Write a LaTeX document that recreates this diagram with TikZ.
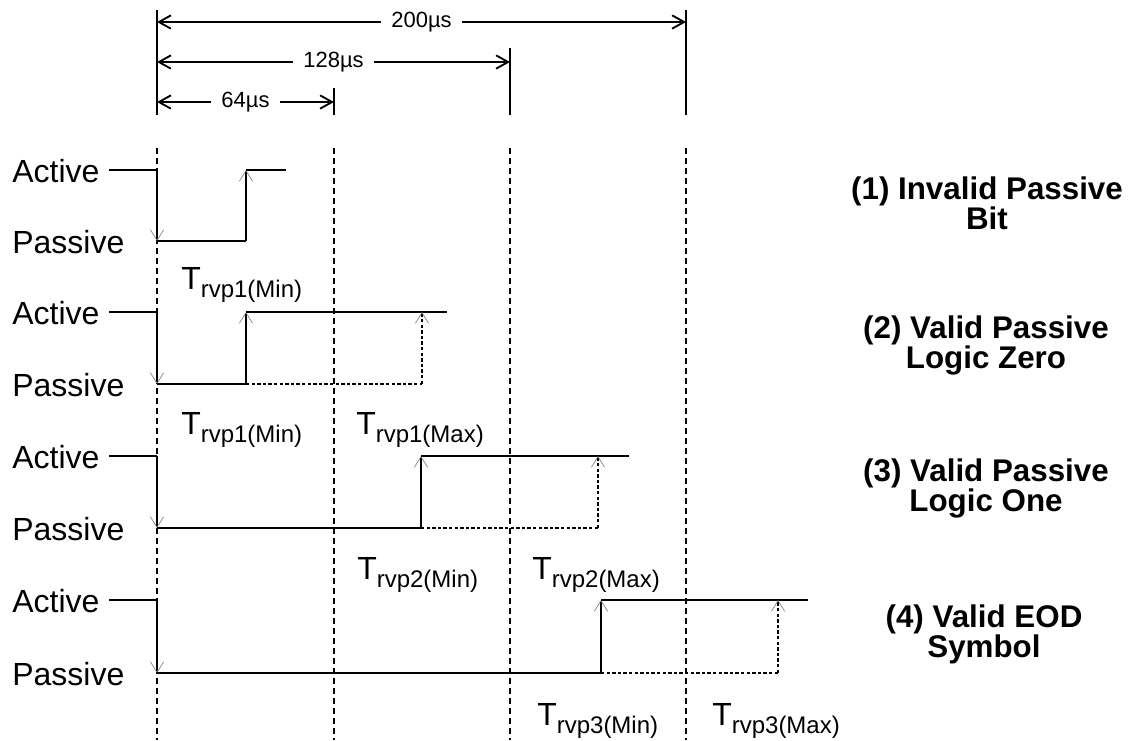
\documentclass[tikz,border=0pt]{standalone}
\usepackage{fontspec}
\setmainfont{Liberation Sans}
\usetikzlibrary{arrows.meta}
\newcommand{\Tlab}[1]{T\raisebox{-6pt}{\fontsize{18}{20}\selectfont #1}}
\begin{document}
\begin{tikzpicture}[x=0.75pt,y=-0.75pt,
  sig/.style={line width=1pt},
  dotsig/.style={line width=2.2pt, dash pattern=on 2.6pt off 1.6pt},
  gridline/.style={line width=1pt, dash pattern=on 4.5pt off 3pt},
  ticksolid/.style={line width=1.4pt},
  dimline/.style={line width=1.4pt, {Straight Barb[length=9pt,width=10pt]}-{Straight Barb[length=9pt,width=10pt]}},
  tipg/.style={-{Straight Barb[length=8pt,width=10pt,color=gray,line width=0.5pt]}},
  lvl/.style={font=\fontsize{24}{28}\selectfont, anchor=west, inner sep=0},
  tl/.style={font=\fontsize{24}{28}\selectfont, anchor=base west, inner sep=0},
  dl/.style={font=\fontsize{16.5}{19}\selectfont, fill=white, inner xsep=8pt, inner ysep=2pt},
  capt/.style={font=\fontsize{23.5}{22.5}\selectfont\bfseries, align=center}
]
\useasboundingbox (0,0) rectangle (1135,740);

% top ticks
\coordinate (k0t) at (157,10);  \coordinate (k0b) at (157,115);
\coordinate (k1t) at (334,88);  \coordinate (k1b) at (334,115);
\coordinate (k2t) at (510,48);  \coordinate (k2b) at (510,115);
\coordinate (k3t) at (686,10);  \coordinate (k3b) at (686,115);
\draw[ticksolid] (k0t) -- (k0b);
\draw[ticksolid] (k1t) -- (k1b);
\draw[ticksolid] (k2t) -- (k2b);
\draw[ticksolid] (k3t) -- (k3b);

% dimension lines
\coordinate (d200a) at (157,22);  \coordinate (d200b) at (686,22);
\coordinate (d128a) at (157,62);  \coordinate (d128b) at (510,62);
\coordinate (d64a) at (157,102);  \coordinate (d64b) at (334,102);
\draw[dimline] (d200a) -- node[dl] (l200) {200µs} (d200b);
\draw[dimline] (d128a) -- node[dl] (l128) {128µs} (d128b);
\draw[dimline] (d64a) -- node[dl] (l64) {64µs} (d64b);

% dashed grid lines
\coordinate (g0t) at (157,148); \coordinate (g0b) at (157,740);
\coordinate (g1t) at (334,148); \coordinate (g1b) at (334,740);
\coordinate (g2t) at (510,148); \coordinate (g2b) at (510,740);
\coordinate (g3t) at (686,148); \coordinate (g3b) at (686,740);
\draw[gridline] (g0t) -- (g0b);
\draw[gridline] (g1t) -- (g1b);
\draw[gridline] (g2t) -- (g2b);
\draw[gridline] (g3t) -- (g3b);

% level labels
\node[lvl] (a1) at (12,171) {Active};
\node[lvl] (p1) at (12,242) {Passive};
\node[lvl] (a2) at (12,313) {Active};
\node[lvl] (p2) at (12,385) {Passive};
\node[lvl] (a3) at (12,457) {Active};
\node[lvl] (p3) at (12,529) {Passive};
\node[lvl] (a4) at (12,601) {Active};
\node[lvl] (p4) at (12,674) {Passive};

% row 1
\coordinate (r1s) at (109,170); \coordinate (r1a) at (157,170); \coordinate (r1b) at (157,241);
\coordinate (r1c) at (246,241); \coordinate (r1d) at (246,170); \coordinate (r1e) at (286,170);
\draw[sig] (r1s) -- (r1a);
\draw[sig,tipg] (r1a) -- (r1b);
\draw[sig] (r1b) -- (r1c);
\draw[sig,tipg] (r1c) -- (r1d);
\draw[sig] (r1d) -- (r1e);

% row 2
\coordinate (r2s) at (109,312); \coordinate (r2a) at (157,312); \coordinate (r2b) at (157,384);
\coordinate (r2c) at (246,384); \coordinate (r2d) at (246,312); \coordinate (r2e) at (447,312);
\coordinate (r2f) at (422,384); \coordinate (r2g) at (422,312);
\draw[sig] (r2s) -- (r2a);
\draw[sig,tipg] (r2a) -- (r2b);
\draw[sig] (r2b) -- (r2c);
\draw[sig,tipg] (r2c) -- (r2d);
\draw[sig] (r2d) -- (r2e);
\draw[dotsig] (r2c) -- (r2f);
\draw[dotsig,tipg] (r2f) -- (r2g);

% row 3
\coordinate (r3s) at (109,456); \coordinate (r3a) at (157,456); \coordinate (r3b) at (157,528);
\coordinate (r3c) at (421,528); \coordinate (r3d) at (421,456); \coordinate (r3e) at (629,456);
\coordinate (r3f) at (598,528); \coordinate (r3g) at (598,456);
\draw[sig] (r3s) -- (r3a);
\draw[sig,tipg] (r3a) -- (r3b);
\draw[sig] (r3b) -- (r3c);
\draw[sig,tipg] (r3c) -- (r3d);
\draw[sig] (r3d) -- (r3e);
\draw[dotsig] (r3c) -- (r3f);
\draw[dotsig,tipg] (r3f) -- (r3g);

% row 4
\coordinate (r4s) at (109,600); \coordinate (r4a) at (157,600); \coordinate (r4b) at (157,673);
\coordinate (r4c) at (601,673); \coordinate (r4d) at (601,600); \coordinate (r4e) at (808,600);
\coordinate (r4f) at (778,673); \coordinate (r4g) at (778,600);
\draw[sig] (r4s) -- (r4a);
\draw[sig,tipg] (r4a) -- (r4b);
\draw[sig] (r4b) -- (r4c);
\draw[sig,tipg] (r4c) -- (r4d);
\draw[sig] (r4d) -- (r4e);
\draw[dotsig] (r4c) -- (r4f);
\draw[dotsig,tipg] (r4f) -- (r4g);

% timing labels
\node[tl] (t1) at (181,289) {\Tlab{rvp1(Min)}};
\node[tl] (t2) at (181,434) {\Tlab{rvp1(Min)}};
\node[tl] (t3) at (356,434) {\Tlab{rvp1(Max)}};
\node[tl] (t4) at (357,579) {\Tlab{rvp2(Min)}};
\node[tl] (t5) at (532,579) {\Tlab{rvp2(Max)}};
\node[tl] (t6) at (537,725) {\Tlab{rvp3(Min)}};
\node[tl] (t7) at (712,725) {\Tlab{rvp3(Max)}};

% captions
\node[capt] (c1) at (987,203) {(1) Invalid Passive\\Bit};
\node[capt] (c2) at (986,345) {(2) Valid Passive\\Logic Zero};
\node[capt] (c3) at (986,488) {(3) Valid Passive\\Logic One};
\node[capt] (c4) at (984,634) {(4) Valid EOD\\Symbol};
\end{tikzpicture}
\end{document}
